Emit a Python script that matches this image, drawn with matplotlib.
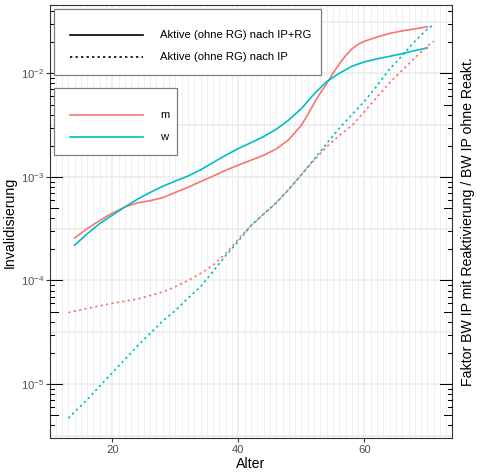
import matplotlib
matplotlib.use("Agg")
import matplotlib.pyplot as plt
import matplotlib.transforms as mtransforms
from matplotlib.patches import Rectangle
from matplotlib.lines import Line2D

plt.rcParams["font.family"] = ["Liberation Sans", "DejaVu Sans"]
plt.rcParams["mathtext.fontset"] = "custom"
plt.rcParams["mathtext.rm"] = "Liberation Sans"
plt.rcParams["mathtext.it"] = "Liberation Sans:italic"
plt.rcParams["mathtext.bf"] = "Liberation Sans:bold"

# --- data -----------------------------------------------------------------
age_solid = [14, 16, 18, 20, 22, 24, 26, 28, 30, 32, 34, 36, 38, 40, 42, 44, 46,
             48, 50, 51, 52, 53, 54, 55, 56, 57, 58, 59, 60, 62, 64, 66, 68, 70]
m_ip_rg = [2.57e-4, 3.16e-4, 3.80e-4, 4.47e-4, 5.13e-4, 5.62e-4, 5.89e-4, 6.31e-4,
           7.08e-4, 7.94e-4, 9.02e-4, 1.02e-3, 1.16e-3, 1.30e-3, 1.45e-3, 1.62e-3,
           1.86e-3, 2.29e-3, 3.16e-3, 3.98e-3, 5.13e-3, 6.46e-3, 7.94e-3, 1.00e-2,
           1.23e-2, 1.48e-2, 1.72e-2, 1.91e-2, 2.04e-2, 2.24e-2, 2.43e-2, 2.57e-2,
           2.69e-2, 2.82e-2]
w_ip_rg = [2.19e-4, 2.82e-4, 3.55e-4, 4.27e-4, 5.13e-4, 6.10e-4, 7.08e-4, 8.13e-4,
           9.12e-4, 1.02e-3, 1.17e-3, 1.38e-3, 1.62e-3, 1.88e-3, 2.14e-3, 2.45e-3,
           2.88e-3, 3.55e-3, 4.57e-3, 5.37e-3, 6.31e-3, 7.24e-3, 8.32e-3, 9.12e-3,
           1.00e-2, 1.08e-2, 1.17e-2, 1.23e-2, 1.29e-2, 1.38e-2, 1.46e-2, 1.55e-2,
           1.66e-2, 1.76e-2]

age_dotted = [13, 16, 20, 24, 28, 30, 32, 34, 36, 38, 40, 42, 44, 46, 48, 50, 52,
              54, 56, 58, 60, 62, 64, 66, 68, 70, 71]
m_ip = [4.90e-5, 5.37e-5, 6.03e-5, 6.61e-5, 7.76e-5, 8.71e-5, 1.00e-4, 1.17e-4,
        1.41e-4, 1.82e-4, 2.51e-4, 3.39e-4, 4.37e-4, 5.62e-4, 7.59e-4, 1.05e-3,
        1.45e-3, 1.95e-3, 2.51e-3, 3.13e-3, 4.27e-3, 5.89e-3, 8.13e-3, 1.07e-2,
        1.41e-2, 1.84e-2, 2.04e-2]
w_ip = [4.68e-6, 7.08e-6, 1.29e-5, 2.34e-5, 4.07e-5, 5.13e-5, 6.76e-5, 8.71e-5,
        1.23e-4, 1.74e-4, 2.40e-4, 3.39e-4, 4.37e-4, 5.62e-4, 7.59e-4, 1.05e-3,
        1.48e-3, 2.09e-3, 2.95e-3, 3.98e-3, 5.37e-3, 7.59e-3, 1.10e-2, 1.48e-2,
        2.04e-2, 2.69e-2, 2.95e-2]

sex_labels = ["m", "w"]
type_labels = ["Aktive (ohne RG) nach IP+RG", "Aktive (ohne RG) nach IP"]
x_ticks = [20, 40, 60]
y_decades = [-5, -4, -3, -2]

COL_M = "#F8766D"
COL_W = "#00BFC4"
DOTTED = (0, (1.4, 1.9))
LW = 1.2

W, H = 480, 472
fig = plt.figure(figsize=(W / 100, H / 100), dpi=100)
p_left, p_right, p_top, p_bottom = 50, 452, 5, 437.7
ax = fig.add_axes([p_left / W, 1 - p_bottom / H, (p_right - p_left) / W,
                   (p_bottom - p_top) / H])

ax.set_yscale("log")
ax.set_xlim(10.1, 73.9)
ax.set_ylim(10 ** -5.518, 10 ** -1.34)

# grid
for x in range(11, 74):
    if x not in x_ticks:
        ax.axvline(x, color="#ebebeb", lw=0.55, zorder=0)
for x in x_ticks:
    ax.axvline(x, color="#ebebeb", lw=1.1, zorder=0)
for k in range(-6, 0):
    ax.axhline(10.0 ** k, color="#ebebeb", lw=1.1, zorder=0)
    ax.axhline(10.0 ** (k + 0.5), color="#ebebeb", lw=1.1, zorder=0)

# curves
ax.plot(age_solid, m_ip_rg, color=COL_M, lw=LW, zorder=3)
ax.plot(age_solid, w_ip_rg, color=COL_W, lw=LW, zorder=3)
ax.plot(age_dotted, m_ip, color=COL_M, lw=LW, ls=DOTTED, zorder=3)
ax.plot(age_dotted, w_ip, color=COL_W, lw=LW, ls=DOTTED, zorder=3)

# axes frame and ticks
for s in ax.spines.values():
    s.set_color("#333333")
    s.set_linewidth(0.8)
ax.set_xticks(x_ticks)
ax.set_xticklabels([str(v) for v in x_ticks])
ax.set_yticks([10.0 ** k for k in y_decades])
ax.set_yticklabels([r"$10^{%d}$" % k for k in y_decades])
ax.minorticks_off()
ax.tick_params(axis="both", which="major", direction="out", length=2.7,
               width=0.8, color="#333333", labelsize=8.1, labelcolor="#4d4d4d")
ax.tick_params(axis="x", pad=2.6)
ax.tick_params(axis="y", pad=1.6)

# log ticks inside on left and right
tr = mtransforms.blended_transform_factory(ax.transAxes, ax.transData)
pw = p_right - p_left
ymin, ymax = ax.get_ylim()
for k in range(-7, 0):
    for m in range(1, 10):
        v = m * 10.0 ** k
        if not (ymin <= v <= ymax):
            continue
        L = 11.7 if m == 1 else (7.9 if m == 5 else 3.9)
        f = L / pw
        ax.add_line(Line2D([0, f], [v, v], transform=tr, color="black",
                           lw=0.75, clip_on=False, zorder=4))
        ax.add_line(Line2D([1 - f, 1], [v, v], transform=tr, color="black",
                           lw=0.75, clip_on=False, zorder=4))

# axis titles
fig.text(251 / W, 1 - 464 / H, "Alter", ha="center", va="center", fontsize=10.2)
fig.text(10 / W, 1 - 222 / H, "Invalidisierung", ha="center", va="center",
         rotation=90, fontsize=10.2)
fig.text(468 / W, 1 - 222 / H,
         "Faktor BW IP mit Reaktivierung / BW IP ohne Reakt.",
         ha="center", va="center", rotation=90, fontsize=10.2)


# legends
def fx(x):
    return x / W


def fy(y):
    return 1 - y / H


def legend_box(x0, y0, x1, y1):
    fig.add_artist(Rectangle((fx(x0), fy(y1)), fx(x1) - fx(x0), fy(y0) - fy(y1),
                             transform=fig.transFigure, facecolor="white",
                             edgecolor="#7f7f7f", lw=0.9, zorder=5))


def legend_entry(y, label, **line_kw):
    fig.add_artist(Line2D([fx(70), fx(143.3)], [fy(y), fy(y)],
                          transform=fig.transFigure, lw=LW, zorder=6, **line_kw))
    fig.text(fx(160), fy(y), label, ha="left", va="center", fontsize=8.1,
             zorder=7)


legend_box(54.3, 9.3, 320.5, 75)
legend_entry(34.7, type_labels[0], color="black")
legend_entry(56.7, type_labels[1], color="black", ls=DOTTED)

legend_box(54.3, 88.3, 176.7, 155)
legend_entry(115, sex_labels[0], color=COL_M)
legend_entry(136.7, sex_labels[1], color=COL_W)

fig.savefig("out.png", dpi=100)
